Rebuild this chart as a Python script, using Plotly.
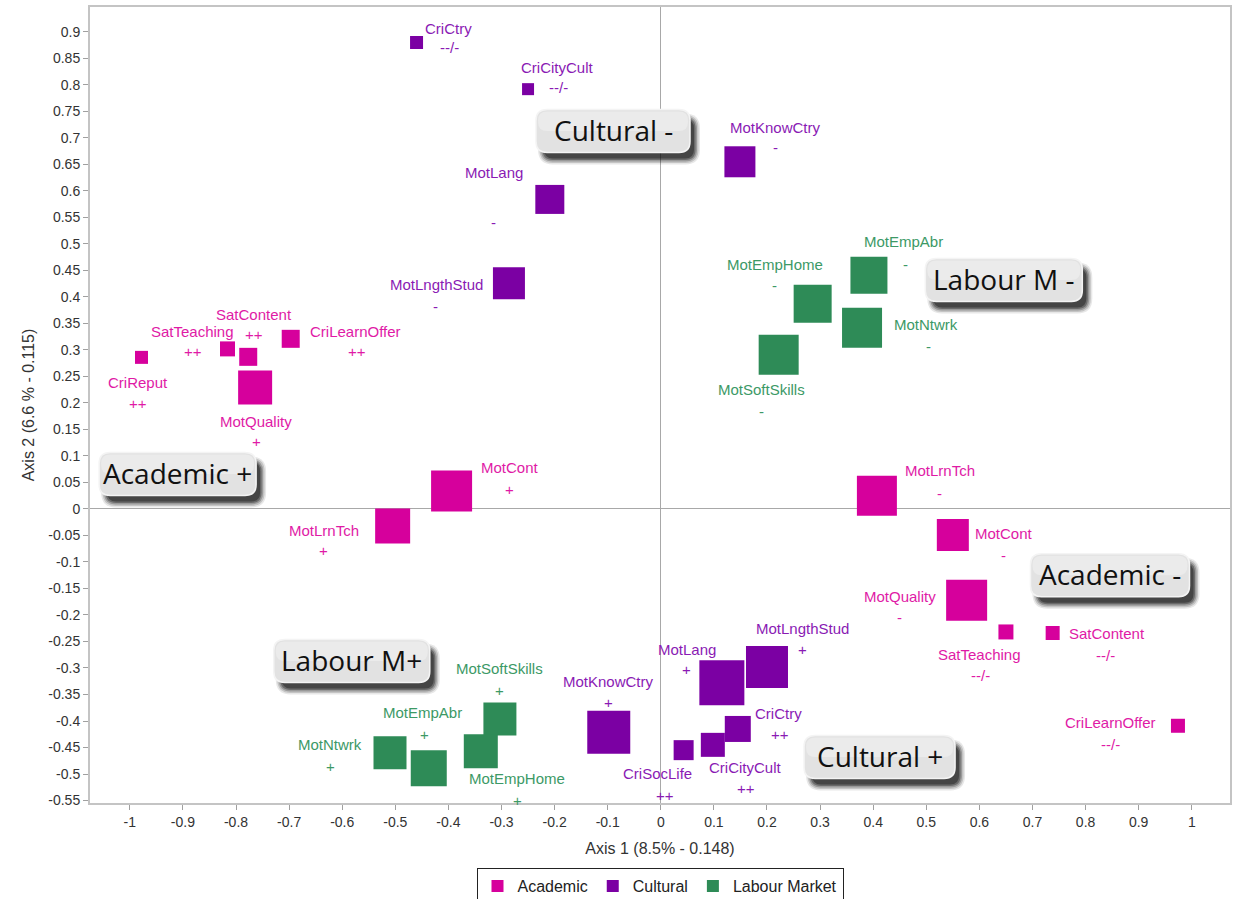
import plotly.graph_objects as go

# ---- data: correspondence-analysis coordinates per modality ----
categories = ["Academic", "Cultural", "Labour Market"]

acad_names = ["CriReput", "SatTeaching", "SatContent", "CriLearnOffer", "MotQuality",
              "MotCont", "MotLrnTch", "MotLrnTch", "MotCont", "MotQuality",
              "SatTeaching", "SatContent", "CriLearnOffer"]
acad_signs = ["++", "++", "++", "++", "+", "+", "+", "-", "-", "-", "--/-", "--/-", "--/-"]
acad_x = [-0.978, -0.816, -0.777, -0.697, -0.764, -0.394, -0.505, 0.407, 0.550, 0.576, 0.650, 0.738, 0.974]
acad_y = [0.286, 0.302, 0.287, 0.321, 0.229, 0.034, -0.032, 0.025, -0.049, -0.172, -0.232, -0.234, -0.409]
acad_weight = [13, 15, 18, 18, 34, 41, 35, 40, 32, 41, 15, 14, 14]

cult_names = ["CriCtry", "CriCityCult", "MotKnowCtry", "MotLang", "MotLngthStud",
              "MotKnowCtry", "MotLang", "MotLngthStud", "CriCtry", "CriCityCult", "CriSocLife"]
cult_signs = ["--/-", "--/-", "-", "-", "-", "+", "+", "+", "++", "++", "++"]
cult_x = [-0.460, -0.250, 0.149, -0.209, -0.286, -0.098, 0.115, 0.200, 0.145, 0.098, 0.043]
cult_y = [0.880, 0.792, 0.655, 0.584, 0.426, -0.421, -0.328, -0.298, -0.415, -0.445, -0.455]
cult_weight = [13, 12, 31, 29, 32, 43, 45, 42, 26, 24, 20]

lab_names = ["MotEmpAbr", "MotEmpHome", "MotNtwrk", "MotSoftSkills",
             "MotNtwrk", "MotEmpAbr", "MotSoftSkills", "MotEmpHome"]
lab_signs = ["-", "-", "-", "-", "+", "+", "+", "+"]
lab_x = [0.392, 0.286, 0.379, 0.222, -0.510, -0.437, -0.303, -0.339]
lab_y = [0.441, 0.387, 0.342, 0.291, -0.460, -0.489, -0.396, -0.457]
lab_weight = [37, 38, 40, 40, 33, 36, 33, 34]

zone_labels = ["Cultural -", "Labour M -", "Academic +", "Academic -", "Labour M+", "Cultural +"]
zone_x = [-0.090, 0.646, -0.910, 0.846, -0.582, 0.412]
zone_y = [0.713, 0.432, 0.066, -0.125, -0.287, -0.468]

x_title = "Axis 1 (8.5% - 0.148)"
y_title = "Axis 2 (6.6 % - 0.115)"

# ---- styling ----
marker_colors = {"Academic": "#D6009C", "Cultural": "#7B00A3", "Labour Market": "#2E8B57"}
text_colors = {"Academic": "#E01AA6", "Cultural": "#8A1AB4", "Labour Market": "#3C9966"}

# pixel offsets (dx right, dy down) of the name and sign labels from each square
acad_label_off = [((-4, 25), (-4, 46)), ((-35, -17), (-35, 3)), ((6, -42), (6, -22)),
                  ((65, -7), (66, 13)), ((1, 34), (1, 54)), ((58, -23), (58, -1)),
                  ((-69, 5), (-69, 25)), ((63, -25), (63, -2)), ((51, -1), (51, 21)),
                  ((-67, -4), (-67, 17)), ((-26, 23), (-25, 44)), ((54, 0), (53, 22)),
                  ((-67, -3), (-67, 19))]
cult_label_off = [((32, -14), (33, 5)), ((29, -22), (30, -2)), ((36, -34), (36, -14)),
                  ((-56, -27), (-56, 23)), ((-72, 1), (-73, 23)), ((0, -51), (0, -30)),
                  ((-35, -33), (-35, -13)), ((36, -38), (36, -17)), ((41, -15), (42, 6)),
                  ((33, 23), (33, 44)), ((-26, 23), (-19, 45))]
lab_label_off = [((35, -34), (37, -11)), ((-38, -39), (-38, -18)), ((64, -3), (66, 19)),
                 ((-17, 35), (-17, 57)), ((-60, -8), (-60, 14)), ((-6, -56), (-4, -34)),
                 ((0, -50), (0, -28)), ((36, 27), (37, 49))]

zone_box_w = [154, 157, 157, 159, 156, 151]
zone_box_h = 43

series = [
    ("Academic", acad_names, acad_signs, acad_x, acad_y, acad_weight, acad_label_off),
    ("Cultural", cult_names, cult_signs, cult_x, cult_y, cult_weight, cult_label_off),
    ("Labour Market", lab_names, lab_signs, lab_x, lab_y, lab_weight, lab_label_off),
]

fig = go.Figure()
annotations = []
label_font = "Liberation Sans, Arial, sans-serif"

for cat, names, signs, xs, ys, ws, offs in series:
    fig.add_trace(go.Scatter(
        x=xs, y=ys, mode="markers", name=cat,
        marker=dict(symbol="square", size=ws, color=marker_colors[cat], opacity=1,
                    line=dict(width=0)),
        hovertext=[f"{n} {s}" for n, s in zip(names, signs)], hoverinfo="text",
    ))
    for n, s, x, y, (noff, soff) in zip(names, signs, xs, ys, offs):
        for txt, (dx, dy) in ((n, noff), (s, soff)):
            annotations.append(dict(
                x=x, y=y, xref="x", yref="y", text=txt, showarrow=False,
                xshift=dx, yshift=-dy, xanchor="center", yanchor="middle",
                font=dict(family=label_font, size=15, color=text_colors[cat]),
            ))


def rounded_box(w, h, r, cx=0.0, cy=0.0):
    x0, x1 = cx - w / 2, cx + w / 2
    y0, y1 = cy - h / 2, cy + h / 2
    return (f"M{x0 + r},{y0} L{x1 - r},{y0} Q{x1},{y0} {x1},{y0 + r} "
            f"L{x1},{y1 - r} Q{x1},{y1} {x1 - r},{y1} L{x0 + r},{y1} "
            f"Q{x0},{y1} {x0},{y1 - r} L{x0},{y0 + r} Q{x0},{y0} {x0 + r},{y0} Z")


shapes = []
for label, zx, zy, w in zip(zone_labels, zone_x, zone_y, zone_box_w):
    common = dict(type="path", xref="x", yref="y", xsizemode="pixel", ysizemode="pixel",
                  xanchor=zx, yanchor=zy, layer="above")
    # soft drop shadow, down and to the right
    for spread, op in ((5, 0.10), (3.5, 0.16), (2, 0.24), (0.5, 0.34), (-1, 0.4)):
        shapes.append(dict(common, path=rounded_box(w + 2 * spread - 2, zone_box_h + 2 * spread - 2,
                                                     10 + spread, 6, -8),
                           fillcolor=f"rgba(15,15,15,{op})", line=dict(width=0)))
    shapes.append(dict(common, path=rounded_box(w, zone_box_h, 11),
                       fillcolor="#E2E2E2", line=dict(color="#F4F4F4", width=1.5)))
    shapes.append(dict(common, path=rounded_box(w - 4, zone_box_h / 2 - 2, 9, 0, zone_box_h / 4 - 1),
                       fillcolor="rgba(255,255,255,0.3)", line=dict(width=0)))
    annotations.append(dict(x=zx, y=zy, xref="x", yref="y", text=label, showarrow=False,
                            xanchor="center", yanchor="middle", yshift=1,
                            font=dict(family="Open Sans, sans-serif", size=28, color="#111111")))

x_ticks = [round(-1 + 0.1 * i, 1) for i in range(21)]
y_ticks = [round(-0.55 + 0.05 * i, 2) for i in range(30)]


def fmt(v):
    s = f"{v:g}"
    return "0" if s in ("-0", "0") else s


axis_common = dict(showgrid=False, zeroline=True, zerolinecolor="#A8A8A8", zerolinewidth=1,
                   showline=True, linecolor="#C4C4C4", linewidth=2, mirror=True,
                   ticks="outside", ticklen=5, tickcolor="#A0A0A0", tickwidth=1,
                   automargin=False,
                   tickfont=dict(family=label_font, size=14, color="#333333"))

fig.update_layout(
    width=1238, height=899,
    margin=dict(l=90, r=8, t=7, b=96, autoexpand=False),
    paper_bgcolor="white", plot_bgcolor="white",
    xaxis=dict(axis_common, range=[-1.075, 1.072], tickmode="array",
               tickvals=x_ticks, ticktext=[fmt(v) for v in x_ticks],
               title=dict(text=x_title, standoff=14,
                          font=dict(family=label_font, size=16, color="#333333"))),
    yaxis=dict(axis_common, range=[-0.5547, 0.947], tickmode="array",
               tickvals=y_ticks, ticktext=[fmt(v) for v in y_ticks],
               title=dict(text=y_title, standoff=10,
                          font=dict(family=label_font, size=16, color="#333333"))),
    legend=dict(orientation="h", x=0.5, xanchor="center",
                yref="container", y=1 - 868 / 899, yanchor="top",
                bordercolor="#222222", borderwidth=1, itemsizing="constant",
                font=dict(family=label_font, size=16, color="#222222"),
                tracegroupgap=0, itemwidth=30),
    shapes=shapes,
    annotations=annotations,
    showlegend=True,
)

fig.write_html("out.html")
